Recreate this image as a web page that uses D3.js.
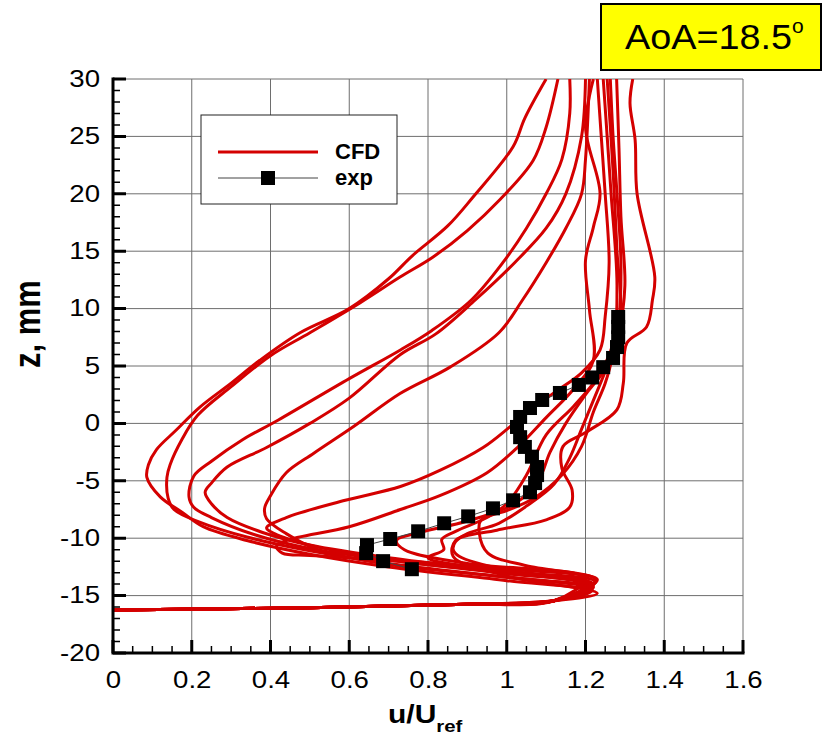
<!DOCTYPE html>
<html>
<head>
<meta charset="utf-8">
<script src="https://cdn.jsdelivr.net/npm/d3@7"></script>
<style>
    body { margin: 0; background: #fff; }
    #chart { position: relative; width: 834px; height: 735px; }
    #chart svg { position: absolute; left: 0; top: 0; }
    text { font-family: "Liberation Sans", Arial, Helvetica, sans-serif; }
</style>
</head>
<body>
<div id="chart"></div>
<script>
window.onerror = function (msg, src, line) {
    var p = document.createElement("div");
    p.style.cssText = "position:absolute;left:130px;top:700px;font:12px sans-serif;color:#00f;z-index:9";
    p.textContent = "ERR " + msg + " @" + line;
    document.body.appendChild(p);
};

// ---- data (u/Uref, z in mm) ----
var xTicks = [0, 0.2, 0.4, 0.6, 0.8, 1, 1.2, 1.4, 1.6];
var yTicks = [-20, -15, -10, -5, 0, 5, 10, 15, 20, 25, 30];
var xMinor = d3.range(0, 1.6001, 0.05);
var yMinor = d3.range(-20, 30.001, 1);

// common near-wall part of every CFD profile
var cfdWall = [[0, -16.25], [0.5, -16.05], [0.9, -15.75], [1.12, -15.45]];

var cfd1 = [[1.215, -14.6], [1.0, -13.7], [0.7, -12.5], [0.5, -11.4], [0.34, -10.2], [0.229, -9.0], [0.178, -7.8], [0.12, -6.4], [0.086, -4.7], [0.09, -3.6], [0.11, -2.3], [0.16, -0.6], [0.22, 1.4], [0.3, 3.5], [0.373, 5.5], [0.475, 7.9], [0.6, 10.0], [0.7, 12.6], [0.76, 14.6], [0.85, 17.2], [0.914, 19.7], [1.016, 24.1], [1.046, 26.6], [1.1, 30]];
var cfd2 = [[1.22, -14.3], [1.0, -13.4], [0.7, -12.2], [0.5, -11.1], [0.34, -9.9], [0.22, -8.6], [0.155, -7.5], [0.14, -6.5], [0.137, -4.7], [0.145, -3.6], [0.175, -1.4], [0.215, 0.7], [0.3, 3.2], [0.4, 5.9], [0.5, 7.9], [0.627, 10.5], [0.729, 12.75], [0.813, 14.5], [0.9, 16.8], [0.983, 19.5], [1.067, 22.9], [1.1, 25.8], [1.13, 30]];
var cfd3 = [[1.21, -14.0], [1.0, -13.1], [0.7, -11.9], [0.5, -10.9], [0.36, -9.7], [0.25, -8.2], [0.205, -7.3], [0.193, -6.4], [0.205, -4.6], [0.25, -3.3], [0.33, -1.4], [0.42, 0.3], [0.6, 3.9], [0.73, 6.4], [0.81, 8.1], [0.91, 10.75], [0.99, 14], [1.05, 17], [1.1, 20], [1.14, 23], [1.16, 27], [1.16, 30]];
var cfd4 = [[1.225, -13.8], [1.0, -12.9], [0.7, -11.7], [0.5, -10.6], [0.38, -9.5], [0.29, -8.2], [0.25, -7.0], [0.234, -6.0], [0.25, -5.2], [0.29, -3.8], [0.39, -2.1], [0.5, 0.0], [0.6, 2.2], [0.73, 6.0], [0.82, 7.8], [0.92, 10.75], [1.02, 14], [1.1, 17], [1.15, 20], [1.19, 25], [1.2, 30]];
var cfd5 = [[1.21, -14.4], [1.0, -13.4], [0.7, -12.3], [0.52, -11.0], [0.44, -9.6], [0.39, -8.3], [0.385, -7.4], [0.4, -6.3], [0.44, -4.3], [0.51, -2.6], [0.61, -0.3], [0.729, 2.6], [0.856, 4.9], [0.98, 7.9], [1.04, 10.75], [1.1, 14], [1.15, 17], [1.19, 20], [1.2, 23], [1.21, 30]];
var cfd6 = [[1.23, -13.6], [1.0, -12.7], [0.7, -11.9], [0.5, -11.5], [0.43, -11.3], [0.415, -10.7], [0.44, -10.2], [0.6, -9.0], [0.73, -7.5], [0.83, -6.3], [0.95, -4.3], [1.03, -2.0], [1.1, 0.5], [1.17, 3.0], [1.22, 5.5], [1.21, 9.9], [1.2, 14.2], [1.22, 17.1], [1.237, 20], [1.2, 25.8], [1.22, 30]];
var cfd7 = [[1.215, -14.0], [1.0, -13.0], [0.7, -11.9], [0.5, -10.6], [0.41, -9.6], [0.39, -9.1], [0.44, -8.2], [0.59, -6.7], [0.73, -5.5], [0.83, -4.1], [0.94, -2.1], [1.008, -0.3], [1.067, 1.4], [1.13, 2.9], [1.19, 4.4], [1.237, 6.4], [1.25, 9.3], [1.26, 14], [1.25, 20], [1.24, 25], [1.23, 30]];
var cfd8 = [[1.22, -14.2], [1.0, -12.9], [0.8, -11.7], [0.84, -11.0], [0.835, -10.1], [0.87, -9.4], [0.95, -8.2], [1.0, -7.0], [1.05, -4.5], [1.1, -1.0], [1.17, 1.5], [1.23, 4.0], [1.27, 7], [1.28, 12], [1.265, 20], [1.255, 25], [1.245, 30]];
var cfd9 = [[1.22, -14.0], [1.0, -12.8], [0.88, -11.6], [0.864, -11.0], [0.87, -10.3], [0.9, -9.6], [0.98, -8.7], [1.05, -7.2], [1.12, -5.3], [1.16, -3.0], [1.19, -0.5], [1.22, 2.0], [1.25, 4.5], [1.28, 7], [1.29, 10], [1.28, 15], [1.27, 22], [1.255, 30]];
var cfd10 = [[1.225, -13.6], [1.05, -12.4], [0.952, -11.3], [0.93, -9.5], [0.935, -8.4], [1.0, -7.6], [1.07, -6.5], [1.14, -4.5], [1.19, -2.0], [1.22, 1.0], [1.25, 3.5], [1.27, 6], [1.285, 9], [1.29, 14], [1.28, 20], [1.27, 25], [1.263, 30]];
var cfd11 = [[1.2, -13.5], [0.9, -12.2], [0.74, -11.0], [0.72, -10.2], [0.78, -9.5], [0.9, -8.5], [1.02, -7.0], [1.08, -5.0], [1.11, -2.5], [1.15, 0.0], [1.2, 2.5], [1.255, 5], [1.285, 8], [1.3, 12], [1.29, 18], [1.285, 24], [1.279, 30]];
var cfd12 = [[1.23, -14.8], [1.0, -13.3], [0.864, -11.6], [0.87, -10.2], [0.975, -9.3], [1.1, -8.4], [1.16, -7.3], [1.166, -5.8], [1.14, -3.9], [1.143, -2.0], [1.2, -0.8], [1.28, 1.2], [1.296, 3.5], [1.305, 7.0], [1.355, 8.4], [1.37, 10.75], [1.376, 12.75], [1.331, 20], [1.326, 24.7], [1.313, 27.9], [1.32, 30]];

var cfdCurves = [cfd1, cfd2, cfd3, cfd4, cfd5, cfd6, cfd7, cfd8, cfd9, cfd10, cfd11, cfd12];

var expU = [1.283, 1.283, 1.283, 1.28, 1.27, 1.245, 1.217, 1.183, 1.135, 1.09, 1.059, 1.034, 1.026, 1.034, 1.046, 1.064, 1.077, 1.077, 1.072, 1.059, 1.016, 0.965, 0.902, 0.841, 0.775, 0.704, 0.645, 0.643, 0.686, 0.759];
var expZ = [9.27, 8.4, 7.5, 6.65, 5.7, 4.9, 4.0, 3.35, 2.65, 2.04, 1.34, 0.56, -0.31, -1.2, -2.05, -2.9, -3.8, -4.5, -5.2, -6.0, -6.7, -7.4, -8.1, -8.7, -9.4, -10.07, -10.6, -11.3, -12.0, -12.7];

// ---- layout ----
var plot = {left: 113, right: 743, top: 79, bottom: 653};
var red = "#d40000";
var stretch = 1.2;   // the labels in the picture are wider than the font

var svg = d3.select("#chart").append("svg")
    .attr("width", 834)
    .attr("height", 735);

var x = d3.scaleLinear().domain([0, 1.6]).range([plot.left, plot.right]);
var y = d3.scaleLinear().domain([-20, 30]).range([plot.bottom, plot.top]);

function widen(sel, k) {
    sel.each(function () {
        var w = this.getComputedTextLength();
        d3.select(this).attr("textLength", w * k).attr("lengthAdjust", "spacingAndGlyphs");
    });
}

// grid
var grid = svg.append("g").attr("class", "grid");
grid.selectAll("line.gx").data(xTicks).enter().append("line")
    .attr("class", "gx")
    .attr("x1", d => x(d)).attr("x2", d => x(d))
    .attr("y1", plot.top).attr("y2", plot.bottom)
    .style("stroke", "#6e6e6e").style("stroke-width", 1);
grid.selectAll("line.gy").data(yTicks).enter().append("line")
    .attr("class", "gy")
    .attr("x1", plot.left).attr("x2", plot.right)
    .attr("y1", d => y(d)).attr("y2", d => y(d))
    .style("stroke", "#6e6e6e").style("stroke-width", 1);

// CFD profiles
var cfdLine = d3.line()
    .x(d => x(d[0]))
    .y(d => y(d[1]))
    .curve(d3.curveCatmullRom.alpha(0.5));

svg.append("defs").append("clipPath").attr("id", "plotclip").append("rect")
    .attr("x", plot.left).attr("y", plot.top)
    .attr("width", plot.right - plot.left).attr("height", plot.bottom - plot.top);

svg.append("g").attr("class", "cfd").attr("clip-path", "url(#plotclip)")
    .selectAll("path").data(cfdCurves).enter().append("path")
    .attr("d", d => cfdLine(cfdWall.concat(d)))
    .attr("fill", "none")
    .attr("stroke", red)
    .attr("stroke-width", 3)
    .attr("stroke-linejoin", "round");

// experiment
var expPts = expU.map((u, i) => [u, expZ[i]]);
svg.append("path")
    .attr("d", d3.line().x(d => x(d[0])).y(d => y(d[1]))(expPts))
    .attr("fill", "none").attr("stroke", "#444").attr("stroke-width", 1);
svg.append("g").attr("class", "exp").selectAll("rect").data(expPts).enter().append("rect")
    .attr("x", d => x(d[0]) - 7).attr("y", d => y(d[1]) - 7)
    .attr("width", 14).attr("height", 14)
    .attr("fill", "#000");

// tick labels
var xAxis = svg.append("g")
    .attr("transform", "translate(0," + plot.bottom + ")")
    .call(d3.axisBottom(x).tickValues(xTicks).tickSize(0)
        .tickPadding(19).tickFormat(d => String(+d.toFixed(1))));
var yAxis = svg.append("g")
    .attr("transform", "translate(" + plot.left + ",0)")
    .call(d3.axisLeft(y).tickValues(yTicks).tickSize(0)
        .tickPadding(13).tickFormat(d => String(d)));

[xAxis, yAxis].forEach(function (a) {
    a.select(".domain").remove();
    a.selectAll(".tick line").remove();
    a.selectAll(".tick text")
        .attr("font-size", 23)
        .attr("fill", "#000")
        .style("font-family", "'Liberation Sans', Arial, sans-serif")
        .call(widen, stretch);
});

// axis titles
svg.append("text")
    .attr("transform", "translate(40,324) scale(" + stretch + ",1) rotate(-90)")
    .attr("text-anchor", "middle")
    .attr("font-size", 31)
    .attr("font-weight", "bold")
    .text("z, mm");

var ut = svg.append("text")
    .attr("transform", "translate(388,723) scale(" + stretch + ",1)")
    .attr("font-size", 25)
    .attr("font-weight", "bold");
ut.append("tspan").text("u/U");
ut.append("tspan").attr("font-size", 17).attr("dy", 9).text("ref");

// legend
var lg = svg.append("g");
lg.append("rect")
    .attr("x", 201).attr("y", 115).attr("width", 196).attr("height", 89)
    .attr("fill", "#fff").attr("stroke", "#222").attr("stroke-width", 1);
lg.append("line").attr("x1", 218).attr("x2", 318).attr("y1", 152).attr("y2", 152)
    .attr("stroke", red).attr("stroke-width", 3);
lg.append("line").attr("x1", 218).attr("x2", 318).attr("y1", 178).attr("y2", 178)
    .attr("stroke", "#444").attr("stroke-width", 1);
lg.append("rect").attr("x", 261).attr("y", 171).attr("width", 14).attr("height", 14).attr("fill", "#000");
lg.append("text").attr("x", 335).attr("y", 159).attr("font-size", 22).attr("font-weight", "bold").text("CFD");
lg.append("text").attr("x", 335).attr("y", 185).attr("font-size", 22).attr("font-weight", "bold").text("exp");

// angle of attack tag
svg.append("rect")
    .attr("x", 601).attr("y", 4).attr("width", 220).attr("height", 66)
    .attr("fill", "#ffff00").attr("stroke", "#000").attr("stroke-width", 2);
svg.append("text")
    .attr("x", 625).attr("y", 49)
    .attr("font-size", 35)
    .text("AoA=18.5")
    .call(widen, 1.08);
svg.append("text")
    .attr("x", 792).attr("y", 33)
    .attr("font-size", 21)
    .text("o");

// spines and inward ticks in their own svg laid over the chart
var frame = d3.select("#chart").append("svg")
    .attr("class", "frame")
    .attr("width", 834)
    .attr("height", 735);
var tickPath = "";
xTicks.forEach(function (d) { tickPath += "M" + x(d) + "," + plot.bottom + "v-13"; });
yTicks.forEach(function (d) { tickPath += "M" + plot.left + "," + y(d) + "h13"; });
var minorPath = "";
xMinor.forEach(function (d) { minorPath += "M" + x(d) + "," + plot.bottom + "v-7"; });
yMinor.forEach(function (d) { minorPath += "M" + plot.left + "," + y(d) + "h7"; });
frame.append("path").attr("d", minorPath)
    .attr("fill", "none").attr("stroke", "#000").attr("stroke-width", 1.5);
frame.append("path").attr("d", tickPath)
    .attr("fill", "none").attr("stroke", "#000").attr("stroke-width", 3);
frame.append("path")
    .attr("d", "M" + plot.left + "," + (plot.top - 1.5) + "V" + plot.bottom + "H" + (plot.right + 1.5))
    .attr("fill", "none").attr("stroke", "#000").attr("stroke-width", 3);
</script>
</body>
</html>
